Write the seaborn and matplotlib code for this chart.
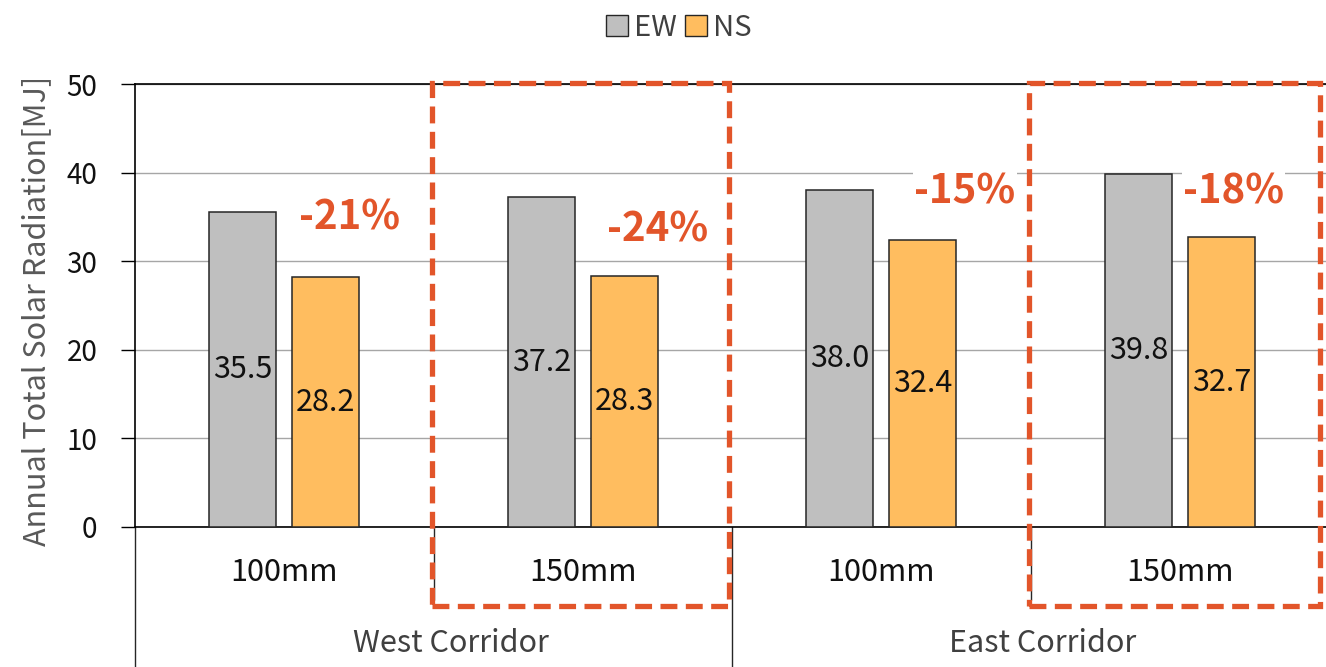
import pandas as pd
import numpy as np
import matplotlib
matplotlib.use("Agg")
import matplotlib.pyplot as plt
import seaborn as sns
from matplotlib.patches import Rectangle, Patch

# chart data
corridors = ["West Corridor", "West Corridor", "East Corridor", "East Corridor"]
widths = ["100mm", "150mm", "100mm", "150mm"]
ew_values = [35.5, 37.2, 38.0, 39.8]
ns_values = [28.2, 28.3, 32.4, 32.7]
reductions = ["-21%", "-24%", "-15%", "-18%"]
series = ["EW", "NS"]
y_ticks = [0, 10, 20, 30, 40, 50]

sns.set_theme(style="white")
plt.rcParams["font.family"] = ["Noto Sans CJK JP", "DejaVu Sans"]

cats = [f"{c}|{w}" for c, w in zip(corridors, widths)]
df = pd.DataFrame({
    "cat": cats * 2,
    "series": ["EW"] * 4 + ["NS"] * 4,
    "value": ew_values + ns_values,
})

fig = plt.figure(figsize=(13.26, 6.67), dpi=100)
ax = fig.add_axes([135 / 1326, 140 / 667, 1194 / 1326, 443 / 667])

sns.barplot(data=df, x="cat", y="value", hue="series", order=cats,
            hue_order=series, palette=["#BFBFBF", "#FFBD5F"], saturation=1,
            width=0.556, gap=0.19, edgecolor="#262626", linewidth=1.1,
            legend=False, ax=ax, zorder=3)

for cont in ax.containers:
    ax.bar_label(cont, fmt="%.1f", label_type="center", fontsize=22,
                 color="#111111")

ax.set_xlim(-0.5, 3.5)
ax.set_ylim(0, 50)
ax.set_yticks(y_ticks)
ax.tick_params(axis="y", labelsize=20, length=10, width=1, direction="out",
               left=True, color="black", labelcolor="#111111", pad=17)
ax.yaxis.grid(True, color="#A6A6A6", linewidth=1, zorder=0)
ax.set_axisbelow(True)
ax.set_ylabel("Annual Total Solar Radiation[MJ]", fontsize=22,
              color="#595959", va="center")
ax.yaxis.set_label_coords(-0.082, 0.487)
ax.set_xlabel("")
ax.set_xticks(range(4))
ax.set_xticklabels([])
ax.tick_params(axis="x", length=0)
for s in ["top", "bottom", "left"]:
    ax.spines[s].set_color("black")
    ax.spines[s].set_linewidth(1.2)
ax.spines["right"].set_visible(False)

# two-level category axis
trans = ax.get_xaxis_transform()
for i, w in enumerate(widths):
    ax.text(i, -0.102, w, transform=trans, ha="center", va="center",
            fontsize=22, color="#111111")
for xb, full in [(-0.5, True), (0.5, False), (1.5, True), (2.5, False)]:
    y_end = -0.32 if full else -0.165
    ax.plot([xb, xb], [0, y_end], transform=trans, color="#262626",
            linewidth=1, clip_on=False)
ax.text(0.56, -0.262, "West Corridor", transform=trans, ha="center",
        va="center", fontsize=22, color="#404040")
ax.text(2.54, -0.262, "East Corridor", transform=trans, ha="center",
        va="center", fontsize=22, color="#404040")

# highlight boxes
for x0, x1 in [(0.495, 1.49), (2.495, 3.47)]:
    ax.add_patch(Rectangle((x0, -0.178), x1 - x0, 1.18, transform=trans,
                           fill=False, edgecolor="#E2552A", linewidth=3.8,
                           linestyle=(0, (3.2, 1.6)), clip_on=False, zorder=5))

# reduction labels
label_pos = [(0.22, 34.9), (1.25, 33.5), (2.28, 37.8), (3.18, 37.8)]
for (x, y), txt in zip(label_pos, reductions):
    ax.text(x, y, txt, ha="center", va="center", fontsize=29,
            fontweight="bold", color="#E2552A", zorder=6,
            bbox=dict(facecolor="white", edgecolor="none", pad=1))

handles = [Patch(facecolor="#BFBFBF", edgecolor="#262626", label="EW"),
           Patch(facecolor="#FFBD5F", edgecolor="#262626", label="NS")]
fig.legend(handles=handles, loc="upper center", bbox_to_anchor=(0.512, 1.02),
           ncol=2, frameon=False, fontsize=21, handlelength=0.75,
           handleheight=0.75, handletextpad=0.2, columnspacing=0.3,
           labelcolor="#404040")

fig.savefig("out.png", dpi=100)
